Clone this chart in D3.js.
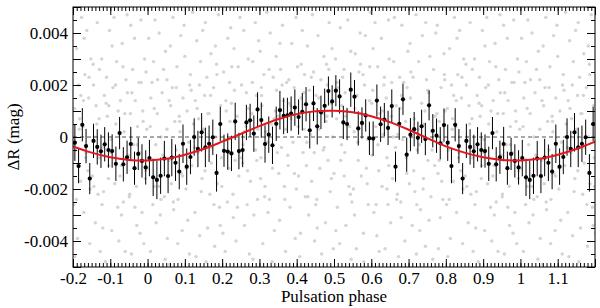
<!DOCTYPE html>
<html>
<head>
<meta charset="utf-8">
<script src="https://cdn.jsdelivr.net/npm/d3@7"></script>
<style>
  body { margin: 0; background: #fff; }
  text { font-family: Liberation Serif, Tinos, Times New Roman, Times, DejaVu Serif, Noto Serif, serif; }
</style>
</head>
<body>
<svg id="chart" width="600" height="308"></svg>
<script>
// dR values are in mmag (axis labels are shown in mag)

// binned light curve: bin centres over one cycle
const binPhase = [
  0.005,0.015,0.025,0.035,0.045,0.055,0.065,0.075,0.085,0.095,
  0.105,0.115,0.125,0.135,0.145,0.155,0.165,0.175,0.185,0.195,
  0.205,0.215,0.225,0.235,0.245,0.255,0.265,0.275,0.285,0.295,
  0.305,0.315,0.325,0.335,0.345,0.355,0.365,0.375,0.385,0.395,
  0.405,0.415,0.425,0.435,0.445,0.455,0.465,0.475,0.485,0.495,
  0.505,0.515,0.525,0.535,0.545,0.555,0.565,0.575,0.585,0.595,
  0.605,0.615,0.625,0.635,0.645,0.655,0.665,0.675,0.685,0.695,
  0.705,0.715,0.725,0.735,0.745,0.755,0.765,0.775,0.785,0.795,
  0.805,0.815,0.825,0.835,0.845,0.855,0.865,0.875,0.885,0.895,
  0.905,0.915,0.925,0.935,0.945,0.955,0.965,0.975,0.985,0.995
];
const binVal = [
  -0.81,-1.55,-1.65,-1.49,-0.83,-1.50,-0.79,-0.99,-1.33,-0.26,
  -1.14,-0.77,0.00,-0.46,0.18,-0.40,-0.26,-0.01,-1.38,0.50,
  -0.53,-0.56,-0.63,0.60,-0.54,-0.50,0.56,0.64,0.13,1.06,
  0.65,-0.27,0.09,-0.32,0.51,1.03,0.81,0.83,0.90,1.13,
  0.77,0.97,1.26,0.26,1.29,0.41,0.95,1.20,1.77,1.37,
  1.78,1.56,0.56,0.50,1.82,1.55,0.33,0.54,0.83,-0.05,
  -0.06,1.40,0.49,0.67,0.35,1.19,-1.14,0.51,1.45,-0.68,
  0.09,0.30,-0.03,0.41,-0.08,1.22,0.24,0.05,-0.24,0.46,
  -0.22,-1.12,0.47,-0.35,-1.60,-0.15,-0.38,-0.55,-0.28,-0.50,
  -0.54,-1.03,0.15,-1.05,-0.78,-0.27,-1.20,-0.65,-0.92,-1.17
];
const binErr = [
  0.70,0.72,0.74,0.70,0.68,0.66,0.72,0.70,0.68,0.74,
  0.70,0.66,0.72,0.70,0.74,0.76,0.70,0.68,0.72,0.66,
  0.62,0.70,0.68,0.72,0.70,0.66,0.68,0.64,0.70,0.66,
  0.68,0.72,0.70,0.72,0.66,0.74,0.70,0.68,0.66,0.70,
  0.68,0.72,0.66,0.70,0.68,0.70,0.64,0.66,0.56,0.62,
  0.60,0.66,0.64,0.62,0.66,0.64,0.66,0.60,0.62,0.64,
  0.66,0.62,0.68,0.64,0.66,0.64,0.58,0.62,0.60,0.66,
  0.64,0.66,0.62,0.64,0.62,0.58,0.64,0.66,0.62,0.64,
  0.70,0.66,0.64,0.66,0.60,0.66,0.68,0.64,0.66,0.68,
  0.64,0.66,0.62,0.66,0.64,0.66,0.64,0.62,0.64,0.66
];

const fitPhase = [-0.2,-0.15,-0.1,-0.05,0,0.05,0.1,0.15,0.2,0.25,0.3,0.35,0.4,0.45,0.5,
  0.55,0.6,0.65,0.7,0.75,0.8,0.85,0.9,0.95,1,1.05,1.1,1.15,1.2];
const fitVal = [-0.36,-0.60,-0.78,-0.88,-0.90,-0.84,-0.68,-0.46,-0.18,0.12,0.42,0.68,0.88,0.99,1.01,
  0.95,0.80,0.57,0.28,-0.04,-0.36,-0.60,-0.78,-0.88,-0.90,-0.84,-0.68,-0.46,-0.18];

// individual measurements [phase, dR], one cycle
const rawPoints = [
  [0.001,-1.2],[0.003,3.8],[0.007,0.4],[0.008,-4.4],[0.012,2.1],[0.014,-2.6],[0.018,1.1],[0.020,4.5],[0.022,-0.3],[0.023,-3.3],[0.016,2.9],
  [0.026,0.9],[0.030,-1.9],[0.031,4.0],[0.034,-3.0],[0.039,1.7],[0.041,-0.7],[0.043,2.6],[0.047,-4.7],[0.048,3.3],[0.036,0.0],[0.045,-2.3],
  [0.052,2.2],[0.053,-3.9],[0.057,-0.9],[0.061,3.5],[0.062,1.2],[0.064,-1.8],[0.068,4.6],[0.070,-2.8],[0.073,0.6],[0.059,-4.9],[0.066,1.9],
  [0.077,-0.5],[0.079,2.7],[0.082,-2.4],[0.085,0.8],[0.089,3.9],[0.090,-1.4],[0.093,-3.6],[0.095,1.5],[0.098,4.3],[0.081,-4.1],[0.087,0.2],
  [0.100,3.1],[0.103,-2.0],[0.106,1.0],[0.110,-0.2],[0.112,-4.5],[0.115,2.4],[0.119,-1.1],[0.121,4.8],[0.123,0.5],[0.108,-3.2],[0.117,1.8],
  [0.127,-2.9],[0.128,1.4],[0.132,3.7],[0.135,-0.6],[0.137,0.7],[0.140,-3.8],[0.142,2.9],[0.146,-1.6],[0.148,4.1],[0.130,-4.6],[0.139,2.0],
  [0.150,0.3],[0.154,-1.3],[0.155,4.4],[0.159,2.3],[0.161,-3.5],[0.165,0.9],[0.167,-2.2],[0.170,3.2],[0.172,-0.4],[0.157,-4.8],[0.169,1.6],
  [0.177,1.9],[0.180,-4.2],[0.183,0.0],[0.185,2.8],[0.187,-1.8],[0.190,4.7],[0.193,-2.7],[0.196,1.2],[0.198,-0.8],[0.182,3.5],[0.195,-3.4],
  [0.202,-3.7],[0.204,2.5],[0.207,-0.1],[0.210,1.4],[0.214,-2.5],[0.215,3.8],[0.218,-1.2],[0.221,0.6],[0.223,4.2],[0.208,-4.4],[0.220,2.1],
  [0.225,1.3],[0.229,-2.2],[0.232,3.4],[0.235,-0.9],[0.237,-4.0],[0.240,0.8],[0.243,2.7],[0.245,-1.5],[0.248,4.6],[0.230,-3.1],[0.246,0.1],
  [0.252,2.0],[0.255,-1.0],[0.258,4.1],[0.260,-3.4],[0.264,0.4],[0.265,1.7],[0.267,-2.6],[0.270,3.0],[0.273,-4.5],[0.256,-0.3],[0.271,1.1],
  [0.276,-1.7],[0.280,0.9],[0.282,2.9],[0.285,-3.0],[0.289,4.4],[0.290,-0.5],[0.292,1.6],[0.295,-2.4],[0.298,3.7],[0.283,-4.7],[0.296,0.3],
  [0.302,3.3],[0.304,-0.8],[0.307,1.2],[0.309,-4.1],[0.312,2.4],[0.315,-1.9],[0.317,0.2],[0.320,4.8],[0.323,-2.9],[0.305,1.9],[0.322,-0.2],
  [0.327,-2.4],[0.329,4.0],[0.332,0.5],[0.335,-1.2],[0.337,2.3],[0.340,-3.6],[0.342,1.0],[0.345,3.1],[0.348,-0.6],[0.334,-4.8],[0.346,1.8],
  [0.350,0.8],[0.354,-3.2],[0.357,2.6],[0.359,-0.4],[0.362,4.3],[0.364,1.4],[0.367,-1.9],[0.370,-4.4],[0.373,2.1],[0.355,3.6],[0.371,0.3],
  [0.377,-1.1],[0.379,2.2],[0.382,-2.7],[0.385,0.7],[0.387,3.6],[0.390,-0.2],[0.393,1.9],[0.396,-3.9],[0.398,4.6],[0.380,1.3],[0.394,-1.4],
  [0.402,2.7],[0.405,-1.5],[0.407,0.9],[0.410,-3.7],[0.412,1.5],[0.415,4.1],[0.417,-0.6],[0.421,2.4],[0.423,-2.3],[0.408,-4.6],[0.420,0.3],
  [0.427,-0.2],[0.429,3.5],[0.432,-3.0],[0.434,1.8],[0.437,0.1],[0.440,-1.7],[0.442,4.7],[0.445,2.5],[0.448,-4.0],[0.430,-2.3],[0.446,1.1],
  [0.452,1.6],[0.454,-2.4],[0.457,3.9],[0.460,0.3],[0.462,-1.2],[0.465,2.2],[0.467,-4.5],[0.470,0.9],[0.473,3.1],[0.455,-3.5],[0.471,-0.5],
  [0.477,-3.3],[0.479,0.6],[0.482,2.0],[0.484,-0.9],[0.487,4.4],[0.490,-2.1],[0.492,1.3],[0.495,3.4],[0.498,-4.3],[0.480,2.8],[0.496,0.0],
  [0.500,-1.4],[0.504,3.0],[0.507,0.7],[0.509,-2.7],[0.512,1.9],[0.515,-4.1],[0.517,4.2],[0.520,-0.3],[0.523,2.3],[0.505,-3.6],[0.521,1.2],
  [0.527,2.6],[0.529,-0.6],[0.532,-3.4],[0.535,1.0],[0.537,4.5],[0.540,-1.9],[0.542,0.4],[0.545,3.3],[0.548,-2.5],[0.530,1.7],[0.546,-4.7],
  [0.552,-2.0],[0.554,0.2],[0.557,3.2],[0.560,-4.3],[0.562,1.6],[0.565,-0.9],[0.567,2.5],[0.570,4.0],[0.573,-1.5],[0.555,-3.0],[0.571,0.9],
  [0.577,0.5],[0.579,-3.7],[0.582,2.0],[0.584,3.9],[0.587,-1.2],[0.590,-0.1],[0.592,-2.6],[0.595,1.4],[0.598,4.8],[0.580,-4.8],[0.596,2.7],
  [0.602,-0.7],[0.604,1.8],[0.607,-2.9],[0.610,4.4],[0.612,0.4],[0.615,-3.8],[0.617,2.7],[0.620,-1.3],[0.623,0.9],[0.605,3.4],[0.621,-4.4],
  [0.627,3.8],[0.629,-1.9],[0.632,0.1],[0.635,2.3],[0.637,-4.3],[0.640,1.5],[0.642,-0.8],[0.645,-2.6],[0.648,3.0],[0.630,1.0],[0.646,4.5],
  [0.652,-3.3],[0.654,0.8],[0.657,-1.6],[0.660,2.9],[0.662,4.6],[0.665,-0.4],[0.667,1.2],[0.670,-2.2],[0.673,-4.6],[0.655,2.1],[0.671,0.1],
  [0.677,1.1],[0.679,-2.5],[0.682,4.3],[0.684,-0.1],[0.687,2.1],[0.690,-4.0],[0.692,0.6],[0.695,-1.4],[0.698,3.3],[0.680,-3.1],[0.696,1.9],
  [0.702,-1.8],[0.704,3.6],[0.707,0.0],[0.710,-3.4],[0.712,2.3],[0.715,0.7],[0.717,-2.1],[0.720,4.7],[0.723,-0.5],[0.705,1.5],[0.721,-4.5],
  [0.727,2.9],[0.729,-0.3],[0.732,-2.8],[0.735,1.3],[0.737,3.9],[0.740,-1.6],[0.742,0.5],[0.745,-4.2],[0.748,2.2],[0.730,-3.6],[0.746,4.4],
  [0.752,-0.9],[0.754,1.7],[0.757,3.1],[0.760,-2.3],[0.762,0.2],[0.765,-4.7],[0.767,2.6],[0.770,-1.1],[0.773,4.0],[0.755,-3.2],[0.771,0.8],
  [0.777,4.3],[0.779,-1.4],[0.782,0.6],[0.785,-3.1],[0.787,1.9],[0.790,-0.2],[0.792,-2.4],[0.795,3.2],[0.798,1.0],[0.780,-4.3],[0.796,2.4],
  [0.802,-2.6],[0.804,1.1],[0.807,-0.5],[0.810,3.4],[0.812,-3.9],[0.815,2.0],[0.817,0.3],[0.820,-1.7],[0.823,4.6],[0.805,-4.6],[0.821,1.6],
  [0.827,0.4],[0.829,-2.9],[0.832,2.4],[0.835,-0.6],[0.837,4.1],[0.840,-1.3],[0.842,1.5],[0.845,-4.1],[0.848,3.0],[0.830,3.8],[0.846,-2.0],
  [0.852,-1.5],[0.854,2.8],[0.857,0.0],[0.860,-3.3],[0.862,1.2],[0.865,4.4],[0.867,-2.2],[0.870,0.7],[0.873,-4.4],[0.855,2.0],[0.871,-0.8],
  [0.877,3.0],[0.879,-0.4],[0.882,-2.1],[0.884,1.6],[0.887,-4.8],[0.890,2.3],[0.892,0.8],[0.895,-1.6],[0.898,4.1],[0.880,-3.5],[0.896,1.2],
  [0.902,-0.1],[0.904,-3.6],[0.907,1.9],[0.910,4.6],[0.912,-1.8],[0.915,0.5],[0.917,2.9],[0.920,-2.7],[0.923,-4.0],[0.905,3.5],[0.921,1.0],
  [0.927,1.4],[0.929,-1.1],[0.932,3.6],[0.935,-2.5],[0.937,0.2],[0.940,-4.4],[0.942,2.2],[0.945,4.7],[0.948,-0.7],[0.930,-3.0],[0.946,1.7],
  [0.952,-2.2],[0.954,0.9],[0.957,-4.5],[0.960,2.6],[0.962,-0.3],[0.965,3.8],[0.967,1.4],[0.970,-1.9],[0.973,0.4],[0.955,4.3],[0.971,-3.4],
  [0.977,2.1],[0.979,-0.6],[0.982,4.5],[0.985,-2.9],[0.987,1.0],[0.990,-4.1],[0.992,3.0],[0.995,-1.3],[0.998,0.3],[0.980,-3.7],[0.996,2.5],
  // extra measurements clustered nearer the mean
  [0.018,-1.9],[0.027,2.2],[0.044,-0.8],[0.058,1.4],[0.069,-2.5],[0.086,0.6],[0.094,-1.5],[0.113,2.0],[0.126,-0.4],[0.133,1.1],
  [0.144,-2.1],[0.162,0.9],[0.171,-1.0],[0.186,2.4],[0.199,-1.9],[0.211,1.0],[0.219,-0.6],[0.233,1.8],[0.241,-2.7],[0.259,0.2],
  [0.268,-1.3],[0.281,2.1],[0.293,-0.9],[0.306,1.6],[0.314,-2.3],[0.326,2.6],[0.339,0.7],[0.352,-1.4],[0.361,2.0],[0.376,-0.7],
  [0.384,1.2],[0.399,-2.0],[0.404,0.4],[0.419,1.7],[0.426,-1.1],[0.439,2.3],[0.451,-2.6],[0.459,1.5],[0.474,-0.4],[0.486,2.6],
  [0.493,-1.6],[0.508,2.1],[0.518,-0.9],[0.531,0.8],[0.544,-2.2],[0.556,1.1],[0.564,-0.2],[0.578,2.4],[0.589,-1.8],[0.601,1.3],
  [0.613,-2.6],[0.626,0.5],[0.634,2.0],[0.647,-1.1],[0.659,0.0],[0.668,-2.4],[0.681,1.6],[0.694,-0.8],[0.706,2.5],[0.714,-1.3],
  [0.726,0.3],[0.739,-2.0],[0.751,1.8],[0.763,-0.5],[0.776,0.9],[0.789,-1.7],[0.797,2.2],[0.809,-2.4],[0.818,0.7],[0.834,-0.8],
  [0.843,2.3],[0.856,-1.9],[0.864,0.5],[0.878,-2.6],[0.889,1.3],[0.901,-0.6],[0.914,2.0],[0.926,-1.5],[0.939,0.9],[0.951,-2.3],
  [0.958,1.7],[0.972,-0.3],[0.983,2.1],[0.994,-1.6],[0.009,1.5],[0.036,-2.4],[0.052,0.3],[0.077,1.9],[0.104,-1.2],[0.153,1.6],
  [0.178,-2.6],[0.226,2.7],[0.251,-0.8],[0.303,-1.6],[0.347,0.5],[0.368,-2.4],[0.412,2.8],[0.447,-0.6],[0.481,0.8],[0.527,-1.5],
  [0.571,2.8],[0.618,-0.3],[0.642,-2.0],[0.676,2.3],[0.722,-2.6],[0.744,1.0],[0.782,-0.9],[0.828,1.4],[0.871,2.6],[0.896,-1.1],
  [0.934,2.7],[0.966,-2.7],[0.988,0.6]
];

const xTicks = [-0.2,-0.1,0,0.1,0.2,0.3,0.4,0.5,0.6,0.7,0.8,0.9,1,1.1,1.2];
const xTickLabels = ["-0.2","-0.1","0","0.1","0.2","0.3","0.4","0.5","0.6","0.7","0.8","0.9","1","1.1",""];
const yTicks = [-4,-2,0,2,4];
const yTickLabels = ["-0.004","-0.002","0","0.002","0.004"];

const FONT = "Liberation Serif, Tinos, Times New Roman, Times, DejaVu Serif, Noto Serif, serif";
const margin = { top: 7, right: 5, bottom: 41, left: 73 };
const width = 600, height = 308;
const innerW = width - margin.left - margin.right;
const innerH = height - margin.top - margin.bottom;
const phaseMin = -0.2, phaseMax = 1.2;

const svg = d3.select("#chart");
const g = svg.append("g").attr("transform", "translate(" + margin.left + "," + margin.top + ")");

const x = d3.scaleLinear().domain([phaseMin, phaseMax]).range([0, innerW]);
const y = d3.scaleLinear().domain([-5, 5]).range([innerH, 0]);

g.append("clipPath").attr("id", "clip")
  .append("rect").attr("width", innerW).attr("height", innerH);

// repeat one cycle over the shown phase range
function unfold(arr) {
  const out = [];
  arr.forEach((d) => {
    [-1, 0, 1].forEach((k) => {
      const p = d.phase + k;
      if (p >= phaseMin - 0.005 && p <= phaseMax + 0.005) out.push(Object.assign({}, d, { phase: p }));
    });
  });
  return out;
}

const raw = unfold(rawPoints.map((d) => ({ phase: d[0], val: d[1] })));
const bins = unfold(binPhase.map((p, i) => ({ phase: p, val: binVal[i], err: binErr[i] })));

const plot = g.append("g").attr("clip-path", "url(#clip)");

plot.append("g").selectAll("circle")
  .data(raw).enter().append("circle")
  .attr("cx", (d) => x(d.phase))
  .attr("cy", (d) => y(d.val))
  .attr("r", 1.7)
  .style("fill", "#d4d4d4");

plot.append("line")
  .attr("x1", 0).attr("x2", innerW)
  .attr("y1", y(0)).attr("y2", y(0))
  .style("stroke", "#555")
  .style("stroke-width", 1)
  .style("stroke-dasharray", "4,3");

plot.append("g").selectAll("line")
  .data(bins).enter().append("line")
  .attr("x1", (d) => x(d.phase)).attr("x2", (d) => x(d.phase))
  .attr("y1", (d) => y(d.val - d.err)).attr("y2", (d) => y(d.val + d.err))
  .style("stroke", "#000")
  .style("stroke-width", 1);

plot.append("g").selectAll("circle")
  .data(bins).enter().append("circle")
  .attr("cx", (d) => x(d.phase))
  .attr("cy", (d) => y(d.val))
  .attr("r", 2.1)
  .style("fill", "#000");

const line = d3.line()
  .x((d, i) => x(fitPhase[i]))
  .y((d) => y(d))
  .curve(d3.curveCatmullRom);

plot.append("path")
  .datum(fitVal)
  .attr("d", line)
  .style("fill", "none")
  .style("stroke", "#e3161e")
  .style("stroke-width", 2);

// axes with inward ticks
const minorX = d3.range(-20, 121).map((i) => i / 100);
const minorY = d3.range(-10, 11).map((i) => i / 2);
const majorY = d3.range(-5, 6);

function clean(sel) {
  sel.attr("font-family", FONT).attr("font-size", 17);
  sel.select(".domain").remove();
  sel.selectAll("line").style("stroke", "#000");
  sel.selectAll("text").attr("font-family", FONT).style("fill", "#000");
}

g.append("g").attr("transform", "translate(0," + innerH + ")")
  .call(d3.axisBottom(x).tickValues(minorX).tickSize(-4).tickFormat("")).call(clean);
g.append("g")
  .call(d3.axisTop(x).tickValues(minorX).tickSize(-4).tickFormat("")).call(clean);
g.append("g").attr("transform", "translate(0," + innerH + ")")
  .call(d3.axisBottom(x).tickValues(xTicks).tickSize(-8).tickPadding(5)
    .tickFormat((d, i) => xTickLabels[i])).call(clean);
g.append("g")
  .call(d3.axisTop(x).tickValues(xTicks).tickSize(-8).tickFormat("")).call(clean);

g.append("g")
  .call(d3.axisLeft(y).tickValues(minorY).tickSize(-4).tickFormat("")).call(clean);
g.append("g").attr("transform", "translate(" + innerW + ",0)")
  .call(d3.axisRight(y).tickValues(minorY).tickSize(-4).tickFormat("")).call(clean);
g.append("g")
  .call(d3.axisLeft(y).tickValues(majorY).tickSize(-8).tickFormat("")).call(clean);
g.append("g").attr("transform", "translate(" + innerW + ",0)")
  .call(d3.axisRight(y).tickValues(majorY).tickSize(-8).tickFormat("")).call(clean);
g.append("g")
  .call(d3.axisLeft(y).tickValues(yTicks).tickSize(0).tickPadding(5)
    .tickFormat((d, i) => yTickLabels[i])).call(clean);

g.append("rect")
  .attr("width", innerW).attr("height", innerH)
  .style("fill", "none")
  .style("stroke", "#000")
  .style("stroke-width", 1);

g.append("text")
  .attr("x", innerW / 2)
  .attr("y", innerH + 35)
  .attr("text-anchor", "middle")
  .attr("font-family", FONT)
  .attr("font-size", 17)
  .text("Pulsation phase");

g.append("text")
  .attr("transform", "translate(" + (-54) + "," + (innerH / 2) + ") rotate(-90)")
  .attr("text-anchor", "middle")
  .attr("font-family", FONT)
  .attr("font-size", 17)
  .text("ΔR (mag)");
</script>
</body>
</html>
